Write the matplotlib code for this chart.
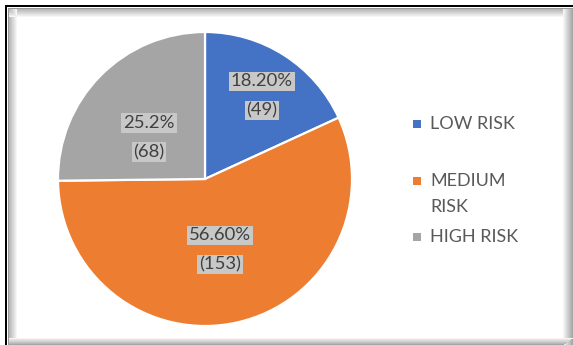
import matplotlib
matplotlib.use("Agg")
import matplotlib.pyplot as plt
from matplotlib.patches import Rectangle

# ---- data ----
categories = ["LOW RISK", "MEDIUM\nRISK", "HIGH RISK"]
counts = [49, 153, 68]
pct_labels = ["18.20%", "56.60%", "25.2%"]
colors = ["#4472C4", "#ED7D31", "#A5A5A5"]

W, H = 573, 345
fig = plt.figure(figsize=(W / 100, H / 100), dpi=100)
ax = fig.add_axes([0, 0, 1, 1])

def Y(y):  # pixel row (top-down) -> data y
    return H - y

cx, cy, R = 205, Y(179), 147
wedges, _ = ax.pie(counts, colors=colors, startangle=90, counterclock=False,
                   center=(cx, cy), radius=R,
                   wedgeprops=dict(edgecolor="white", linewidth=1.6))
ax.set_xlim(0, W)
ax.set_ylim(0, H)
ax.set_aspect("auto")
ax.axis("off")

# ---- data labels (offsets from pie centre, pixels) ----
label_offsets = [(57, 83), (15, -71), (-56, 41.5)]
line_gap = 14.5
box = dict(boxstyle="square,pad=0.1", fc="#C8C8C8", ec="none")
for (dx, dy), pct, n in zip(label_offsets, pct_labels, counts):
    x, y = cx + dx, cy + dy
    ax.text(x, y + line_gap, pct, ha="center", va="center", fontsize=13.3,
            family="Lato", color="#404040", bbox=box)
    ax.text(x, y - line_gap, f"({n})", ha="center", va="center", fontsize=13.3,
            family="Lato", color="#404040", bbox=box)

# ---- legend (manual, Excel-style) ----
first_line_y = [124, 181, 237]
for lab, col, ly in zip(categories, colors, first_line_y):
    ax.add_patch(Rectangle((413, Y(ly) - 4), 8, 8, fc=col, ec="none"))
    for k, part in enumerate(lab.split("\n")):
        ax.text(430, Y(ly + 26 * k), part, ha="left", va="center",
                fontsize=13, family="Lato", color="#595959")

# ---- frame with shadow ----
ax.add_patch(Rectangle((5, Y(7)), W - 5, 2, fc="black", ec="none", zorder=5))
ax.add_patch(Rectangle((5, 0), 2, Y(5), fc="black", ec="none", zorder=5))
ax.add_patch(Rectangle((8, Y(9)), W - 8, 1, fc="#9A9A9A", ec="none", zorder=5))
ax.add_patch(Rectangle((8, 0), 1, Y(8), fc="#9A9A9A", ec="none", zorder=5))
for i in range(8):
    g = 0.72 + 0.035 * i
    ax.add_patch(Rectangle((9 + i, 0), 1, Y(9), fc=(g, g, g), ec="none", zorder=4))
    ax.add_patch(Rectangle((9, Y(10 + i)), W - 9, 1, fc=(g, g, g), ec="none", zorder=4))
for i in range(10):
    g = 1.0 - 0.035 * (i + 1)
    ax.add_patch(Rectangle((W - 10 + i, 0), 1, Y(9), fc=(g, g, g), ec="none", zorder=4))
    ax.add_patch(Rectangle((9, i * 0.7), W - 9, 0.7, fc=(1 - 0.035 * (10 - i),) * 3,
                           ec="none", zorder=4))

fig.savefig("out.png", dpi=100)
